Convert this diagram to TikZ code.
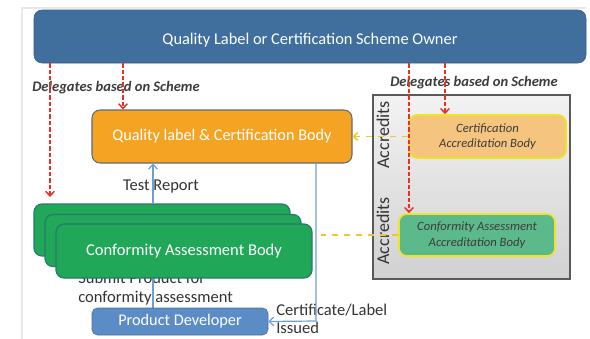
\documentclass[tikz,border=0pt]{standalone}
\usepackage{fontspec}
\setmainfont{Carlito}
\usetikzlibrary{arrows.meta,positioning}
\definecolor{ownerblue}{RGB}{64,111,158}
\definecolor{ownerborder}{RGB}{52,92,132}
\definecolor{qorange}{RGB}{245,163,35}
\definecolor{qborder}{RGB}{95,105,120}
\definecolor{cabgreen}{RGB}{32,168,88}
\definecolor{cabborder}{RGB}{40,120,110}
\definecolor{pdblue}{RGB}{92,140,198}
\definecolor{pdborder}{RGB}{70,112,160}
\definecolor{linkblue}{RGB}{110,158,210}
\definecolor{delred}{RGB}{232,48,42}
\definecolor{accyellow}{RGB}{240,200,40}
\definecolor{ybord}{RGB}{240,228,30}
\definecolor{certfill}{RGB}{245,197,128}
\definecolor{caabfill}{RGB}{92,185,140}
\definecolor{txtdark}{RGB}{60,60,60}
\tikzset{
  px/.style={x=0.75pt,y=-0.75pt},
  boxbase/.style={rounded corners=6pt,inner sep=0pt,align=center},
  ownerbox/.style={boxbase,fill=ownerblue,draw=ownerborder,text=white,font=\fontsize{12.3}{14}\selectfont},
  orangebox/.style={boxbase,fill=qorange,draw=qborder,line width=0.8pt,text=white,font=\fontsize{12.2}{14}\selectfont},
  greenbox/.style={boxbase,fill=cabgreen,draw=cabborder,line width=0.9pt,text=white,font=\fontsize{12.4}{14}\selectfont},
  pdbox/.style={boxbase,rounded corners=4pt,fill=pdblue,draw=pdborder,text=white,font=\fontsize{12.2}{14}\selectfont},
  accbox/.style={boxbase,draw=ybord,line width=1.2pt,text=txtdark,font=\fontsize{9.5}{11.5}\selectfont\itshape},
  deleg/.style={text=txtdark,font=\fontsize{10.9}{12}\selectfont\bfseries\itshape},
  plain/.style={text=black!80,font=\fontsize{12.4}{14}\selectfont,align=left},
  acctext/.style={rotate=90,text=black!80,font=\fontsize{13.5}{15}\selectfont},
  redarrow/.style={draw=delred,line width=1.1pt,dash pattern=on 3.2pt off 1.6pt,-{Straight Barb[length=3.5pt,width=6.5pt]}},
  ydash/.style={draw=accyellow,line width=1.2pt,dash pattern=on 5pt off 4pt},
  bluelink/.style={draw=linkblue,line width=0.9pt},
  bluearrow/.style={bluelink,-{Straight Barb[length=3.5pt,width=6.5pt]}}
}
\begin{document}
\begin{tikzpicture}[px]
\useasboundingbox (0,0) rectangle (590,339);
% faint frame
\draw[gray!18,line width=1.5pt] (22,339) -- (22,8) -- (586,8);
% gray accreditation panel
\node[draw=black!65,line width=0.8pt,top color=black!5,bottom color=black!18,minimum width=197*0.75pt,minimum height=184*0.75pt,inner sep=0pt] (panel) at (471.5,187) {};
\node[acctext] (acc1) at (383,135) {Accredits};
\node[acctext] (acc2) at (383,231) {Accredits};
% submit label (behind green stack)
\node[plain,anchor=north west,inner sep=0pt] (submit) at (78,272) {Submit Product for\\[0pt]conformity assessment};
% links drawn below boxes
\coordinate (pdtop) at (153,308);
\coordinate (cabbot) at (153,270);
\coordinate (cabtop) at (153,204);
\draw[bluelink] (pdtop) -- (cabbot);
% boxes
\node[ownerbox,minimum width=552*0.75pt,minimum height=53*0.75pt,text depth=0pt] (owner) at (310,36.5) {\raisebox{-3pt}{Quality Label or Certification Scheme Owner}};
\node[orangebox,minimum width=260*0.75pt,minimum height=53*0.75pt] (qcb) at (222,136.5) {\raisebox{-2pt}{Quality label \& Certification Body}};
\node[greenbox,minimum width=256*0.75pt,minimum height=52*0.75pt] (cab3) at (162,230) {};
\node[greenbox,minimum width=256*0.75pt,minimum height=52*0.75pt] (cab2) at (173,240.5) {};
\node[greenbox,minimum width=256*0.75pt,minimum height=54*0.75pt] (cab) at (184,251) {\raisebox{-2pt}{Conformity Assessment Body}};
\node[pdbox,minimum width=176*0.75pt,minimum height=27*0.75pt] (pd) at (180,321.5) {Product Developer};
\node[accbox,fill=certfill,minimum width=157*0.75pt,minimum height=43*0.75pt] (certab) at (487.5,136.5) {Certification\\Accreditation Body};
\node[accbox,fill=caabfill,minimum width=156*0.75pt,minimum height=42*0.75pt] (caab) at (477,235) {Conformity Assessment\\Accreditation Body};
% labels
\node[deleg,anchor=west,inner sep=0pt] (dl1) at (32,88) {Delegates based on Scheme};
\node[deleg,anchor=west,inner sep=0pt] (dl2) at (390,83) {Delegates based on Scheme};
\node[plain,inner sep=0pt] (tr) at (161,187) {Test Report};
\node[plain,anchor=north west,inner sep=0pt] (cl) at (276,304) {Certificate/Label\\[-0.5pt]Issued};
% red delegation arrows
\draw[redarrow] (owner.south -| 50,0) -- (50,197);
\draw[redarrow] (owner.south -| 123,0) -- (qcb.north -| 123,0);
\draw[redarrow] (owner.south -| 409,0) -- (caab.north -| 409,0);
\draw[redarrow] (owner.south -| 445,0) -- (certab.north -| 445,0);
% yellow accreditation links
\draw[ydash,-{Straight Barb[length=3pt,width=6pt]}] (certab.west) -- (qcb.east);
\draw[ydash,shorten >=6pt] (caab.west) -- (cab.east |- caab.west);
% blue links
\draw[bluearrow] (cabtop) -- (qcb.south -| cabtop);
\draw[bluearrow] (qcb.south -| 316,0) -- (316,321) -- (pd.east);
\end{tikzpicture}
\end{document}
